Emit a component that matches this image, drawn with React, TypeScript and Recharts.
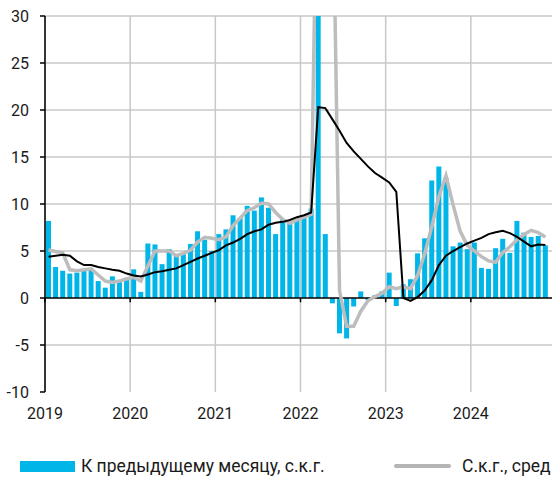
import { ComposedChart, Bar, Line, XAxis, YAxis, CartesianGrid, ReferenceLine } from "recharts"

// Jan 2019 .. Dec 2024, one entry per month
const years = ["2019", "2020", "2021", "2022", "2023", "2024"]

// К предыдущему месяцу, с.к.г.
const momSa = [
  8.2, 3.3, 2.9, 2.6, 2.7, 2.9, 3.0, 1.8, 1.1, 2.3, 1.8, 1.9,
  3.05, 0.65, 5.8, 5.7, 3.6, 5.2, 4.5, 4.75, 5.75, 7.1, 6.2, 5.0,
  6.8, 7.3, 8.8, 8.5, 9.8, 9.3, 10.7, 9.6, 6.8, 8.3, 7.9, 8.3,
  8.5, 9.5, 38, 6.8, -0.57, -3.76, -4.3, -0.9, 0.7, -0.2, 0.3, 0.7,
  2.7, -0.85, 1.45, 2.0, 4.75, 6.35, 12.5, 14.0, 12.8, 5.5, 5.9, 5.2,
  5.9, 3.2, 3.1, 5.3, 6.3, 4.8, 8.2, 6.95, 6.5, 6.6, 5.6, null,
]

// Г/г
const yoy = [
  4.4, 4.5, 4.6, 4.5, 3.9, 3.5, 3.5, 3.3, 3.15, 3.0, 2.9, 2.6,
  2.4, 2.3, 2.5, 2.75, 2.85, 3.0, 3.15, 3.5, 3.85, 4.2, 4.5, 4.8,
  5.1, 5.6, 5.9, 6.3, 6.8, 7.1, 7.3, 7.8, 8.0, 8.1, 8.3, 8.6,
  8.8, 9.1, 20.3, 20.2, 19.0, 17.8, 16.5, 15.6, 14.8, 14.0, 13.3, 12.8,
  12.3, 11.3, 0.0, -0.3, 0.1, 0.8, 1.9, 3.5, 4.5, 5.0, 5.4, 5.8,
  6.1, 6.4, 6.8, 7.0, 7.15, 6.9, 6.5, 6.0, 5.5, 5.7, 5.65, null,
]

// С.к.г., среднее за 3 месяца
const saAvg = [
  5.1, 4.95, 4.8, 3.0, 2.9, 3.0, 3.1, 2.45, 1.8, 1.65, 1.8, 2.05,
  2.2, 1.8, 3.4, 5.0, 5.0, 5.0, 4.5, 4.75, 5.1, 5.95, 6.45, 6.35,
  6.2, 6.5, 7.7, 8.5, 9.3, 9.6, 10.1, 10.0, 9.1, 8.35, 7.95, 8.3,
  8.6, 8.9, 55, 50, 47, 0.8, -3.0, -3.0, -1.4, -0.3, 0.15, 0.5,
  1.2, 1.0, 1.2, 1.0, 2.4, 4.7, 7.6, 10.8, 13.0, 9.9, 7.1, 5.6,
  5.0, 4.4, 3.95, 3.8, 4.85, 5.45, 6.2, 6.75, 7.2, 6.95, 6.5, null,
]

const yTicks = [-10, -5, 0, 5, 10, 15, 20, 25, 30]
const gridY = [-5, 5, 10, 15, 20, 25, 30]
const yearStarts = years.map((_, i) => i * 12)

const data = momSa.map((v, i) => ({ t: i + 0.5, mom: v, yoy: yoy[i], avg: saAvg[i] }))

const font = "Roboto, sans-serif"

export default function App() {
  return (
    <div style={{ position: "absolute", left: 0, top: 0, width: 552, height: 479, overflow: "hidden", background: "#fff", fontFamily: font }}>
      <ComposedChart width={556} height={430} data={data} margin={{ top: 16, right: 0, bottom: 0, left: 0 }}>
        <CartesianGrid stroke="#c8c8c8" strokeWidth={1.5} horizontalValues={gridY} verticalValues={[...yearStarts, 72]} />
        <XAxis
          type="number"
          dataKey="t"
          domain={[0, 72]}
          ticks={yearStarts}
          tickFormatter={(v: number) => years[v / 12]}
          axisLine={false}
          tickLine={false}
          tickMargin={10}
          height={38}
          tick={{ fill: "#1a1a1a", fontSize: 16, fontFamily: font }}
          allowDataOverflow
        />
        <YAxis
          domain={[-10, 30]}
          ticks={yTicks}
          width={45}
          allowDataOverflow
          axisLine={{ stroke: "#000", strokeWidth: 1.5 }}
          tickLine={{ stroke: "#000", strokeWidth: 1.5 }}
          tickSize={5}
          tickMargin={11}
          tick={{ fill: "#1a1a1a", fontSize: 16, fontFamily: font }}
        />
        <Bar dataKey="mom" fill="#00b5e8" barSize={5} isAnimationActive={false} />
        <ReferenceLine y={0} stroke="#000" strokeWidth={1.5} />
        {yearStarts.map((s) => (
          <ReferenceLine key={s} segment={[{ x: s, y: 0 }, { x: s, y: -0.45 }]} stroke="#000" strokeWidth={1.5} />
        ))}
        <Line dataKey="avg" stroke="#bdbdbd" strokeWidth={3.5} dot={false} isAnimationActive={false} />
        <Line dataKey="yoy" stroke="#000" strokeWidth={2} dot={false} isAnimationActive={false} />
      </ComposedChart>
      <div style={{ position: "absolute", left: 20, top: 461, width: 55, height: 11, background: "#00b5e8" }} />
      <div style={{ position: "absolute", left: 81, top: 456, fontSize: 17.5, lineHeight: "20px", color: "#1a1a1a", whiteSpace: "nowrap" }}>
        К предыдущему месяцу, с.к.г.
      </div>
      <div style={{ position: "absolute", left: 394, top: 464, width: 57, height: 4, borderRadius: 2, background: "#b4b4b4" }} />
      <div style={{ position: "absolute", left: 462, top: 456, fontSize: 17.5, lineHeight: "20px", color: "#1a1a1a", whiteSpace: "nowrap" }}>
        С.к.г., сред
      </div>
    </div>
  )
}
